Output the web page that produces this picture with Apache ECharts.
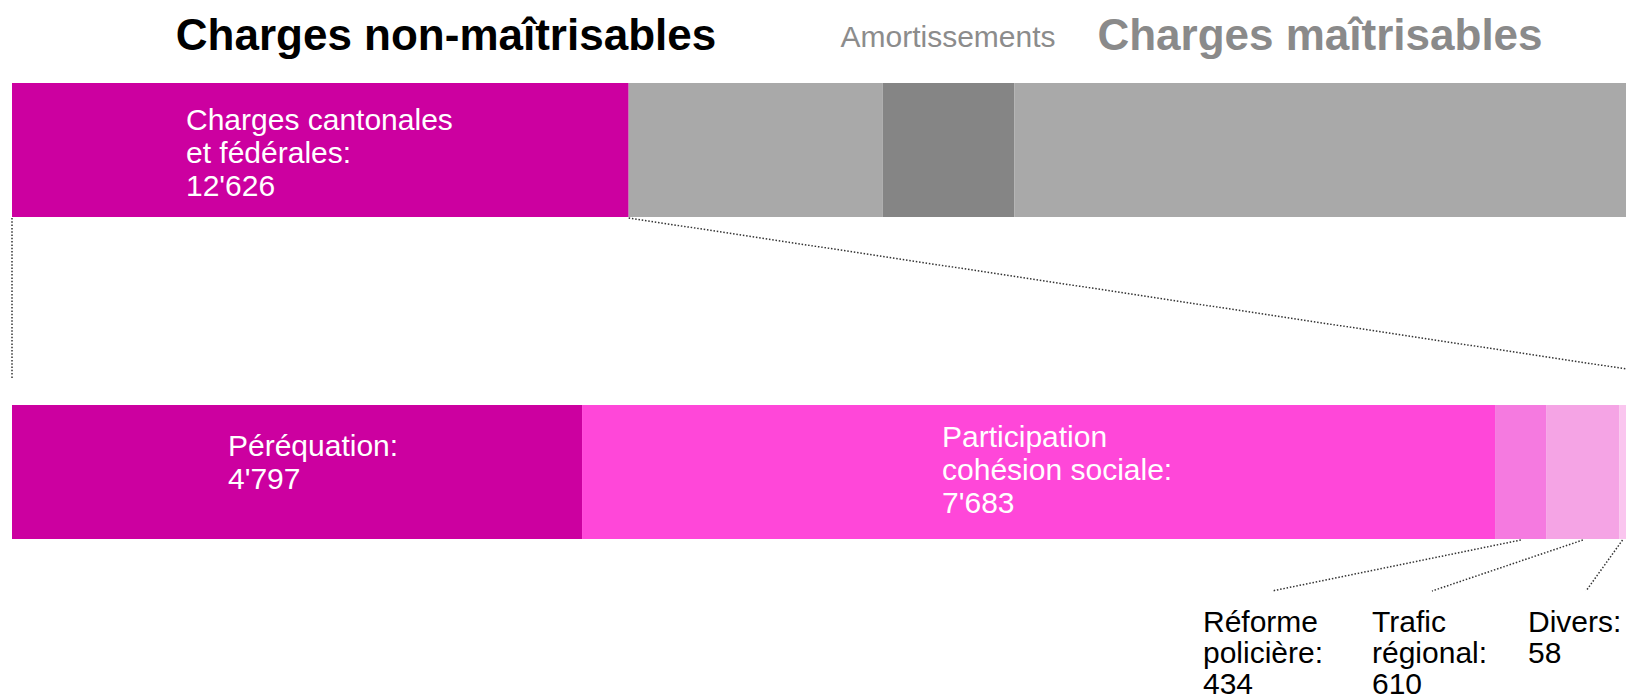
<!DOCTYPE html>
<html>
<head>
<meta charset="utf-8">
<script src="https://cdn.jsdelivr.net/npm/echarts@6/dist/echarts.min.js"></script>
<style>
html,body{margin:0;padding:0;background:#ffffff;}
#chart{width:1626px;height:699px;}
</style>
</head>
<body>
<div id="chart"></div>
<script>
// ---------- DATA ----------
const topCategories = ['Charges cantonales et fédérales', 'Autres charges non-maîtrisables', 'Amortissements', 'Charges maîtrisables'];
const topValues = [12626, 5200, 2700, 12520];
const topLabelNames = ['Charges cantonales\net fédérales', '', '', ''];

const detailCategories = ['Péréquation', 'Participation cohésion sociale', 'Réforme policière', 'Trafic régional', 'Divers'];
const detailValues = [4797, 7683, 434, 610, 58];
const detailLabelNames = ['Péréquation', 'Participation\ncohésion sociale', 'Réforme\npolicière', 'Trafic\nrégional', 'Divers'];

const headerTitles = ['Charges non-maîtrisables', 'Amortissements', 'Charges maîtrisables'];

// ---------- STYLE / LAYOUT ----------
const topColors = ['#CC00A0', '#A9A9A9', '#858585', '#A9A9A9'];
const detailColors = ['#CC00A0', '#FF47D9', '#F57AE0', '#F5A4E5', '#FAC6EF'];
const FONT = '"Liberation Sans", Arial, Helvetica, sans-serif';
const BAR_H = 134;
const GRID_LEFT = 12;
const TOP_Y = 83, BOTTOM_Y = 405;

const fmt = v => String(v).replace(/\B(?=(\d{3})+(?!\d))/g, "'");
const sum = a => a.reduce((s, v) => s + v, 0);

const chart = echarts.init(document.getElementById('chart'), null, {renderer: 'svg'});

function makeSeries(cats, vals, colors, stack, idx) {
  return cats.map((c, i) => ({
    name: c,
    type: 'bar',
    stack: stack,
    xAxisIndex: idx,
    yAxisIndex: idx,
    barWidth: BAR_H,
    z: 2,
    itemStyle: {color: colors[i]},
    emphasis: {disabled: true},
    data: [vals[i]]
  }));
}

chart.setOption({
  animation: false,
  backgroundColor: '#ffffff',
  grid: [
    {left: GRID_LEFT, right: 0, top: TOP_Y, height: BAR_H},
    {left: GRID_LEFT, right: 0, top: BOTTOM_Y, height: BAR_H}
  ],
  xAxis: [
    {type: 'value', gridIndex: 0, min: 0, max: sum(topValues), show: false},
    {type: 'value', gridIndex: 1, min: 0, max: sum(detailValues), show: false}
  ],
  yAxis: [
    {type: 'category', gridIndex: 0, data: ['haut'], show: false},
    {type: 'category', gridIndex: 1, data: ['détail'], show: false}
  ],
  series: makeSeries(topCategories, topValues, topColors, 'haut', 0)
    .concat(makeSeries(detailCategories, detailValues, detailColors, 'detail', 1))
});

// pixel helpers through the axes
function xPix(axisIdx, v) { return chart.convertToPixel({xAxisIndex: axisIdx}, v); }
function yCenter(gridIdx, cat) { return chart.convertToPixel({gridIndex: gridIdx}, [0, cat])[1]; }

const topCum = [0]; topValues.forEach((v, i) => topCum.push(topCum[i] + v));
const detCum = [0]; detailValues.forEach((v, i) => detCum.push(detCum[i] + v));

const topMid = yCenter(0, 'haut');
const botMid = yCenter(1, 'détail');
const topBarTop = topMid - BAR_H / 2, topBarBottom = topMid + BAR_H / 2;
const botBarTop = botMid - BAR_H / 2, botBarBottom = botMid + BAR_H / 2;

const graphics = [];
const dotted = {stroke: '#333', lineWidth: 1.5, lineDash: [1.5, 1.8]};

// headers
const headerLayout = [
  {x: 446, y: 34, size: 44, weight: 'bold', color: '#000000'},
  {x: 948, y: 36, size: 30, weight: 'normal', color: '#8C8C8C'},
  {x: 1320, y: 34, size: 44, weight: 'bold', color: '#8A8A8A'}
];
headerTitles.forEach((t, i) => {
  const L = headerLayout[i];
  graphics.push({type: 'text', x: L.x, y: L.y, silent: true, z: 100,
    style: {text: t, fill: L.color, fontSize: L.size, fontWeight: L.weight, fontFamily: FONT,
      align: 'center', verticalAlign: 'middle'}});
});

// inside labels
const LH = 33;
function insideLabel(text, left, firstCenter) {
  graphics.push({type: 'text', x: left, y: firstCenter - LH / 2, silent: true, z: 100,
    style: {text: text, fill: '#ffffff', fontSize: 30, fontFamily: FONT, lineHeight: LH,
      align: 'left', verticalAlign: 'top'}});
}
// top bar label (segment 0)
insideLabel(topLabelNames[0] + ':\n' + fmt(topValues[0]), xPix(0, topCum[0]) + 174, topBarTop + 36);
// detail inside labels
insideLabel(detailLabelNames[0] + ':\n' + fmt(detailValues[0]), xPix(1, detCum[0]) + 216, botBarTop + 40);
insideLabel(detailLabelNames[1] + ':\n' + fmt(detailValues[1]), xPix(1, detCum[1]) + 360, botBarTop + 31);

// outside labels with leaders (segments 2,3,4)
const outsideLayout = [
  {seg: 2, left: 1203, leadDx: 69},
  {seg: 3, left: 1372, leadDx: 60},
  {seg: 4, left: 1528, leadDx: 58}
];
const OLH = 31, outFirstCenter = 621, leadEndY = 591;
outsideLayout.forEach(o => {
  const i = o.seg;
  graphics.push({type: 'text', x: o.left, y: outFirstCenter - OLH / 2, silent: true, z: 100,
    style: {text: detailLabelNames[i] + ':\n' + fmt(detailValues[i]), fill: '#000000', fontSize: 30,
      fontFamily: FONT, lineHeight: OLH, align: 'left', verticalAlign: 'top'}});
  const cx = (xPix(1, detCum[i]) + xPix(1, detCum[i + 1])) / 2;
  graphics.push({type: 'line', silent: true, z: 100,
    shape: {x1: cx, y1: botBarBottom + 1, x2: o.left + o.leadDx, y2: leadEndY}, style: dotted});
});

// zoom connector lines from top segment 0 to detail bar
const connEndY = botBarTop - 27;
graphics.push({type: 'line', silent: true, z: 100,
  shape: {x1: xPix(0, topCum[0]), y1: topBarBottom + 1, x2: xPix(0, topCum[0]), y2: connEndY}, style: dotted});
graphics.push({type: 'line', silent: true, z: 100,
  shape: {x1: xPix(0, topCum[1]), y1: topBarBottom + 1, x2: xPix(1, detCum[detCum.length - 1]) + 60, y2: connEndY}, style: dotted});

chart.setOption({graphic: {elements: graphics}});
</script>
</body>
</html>
